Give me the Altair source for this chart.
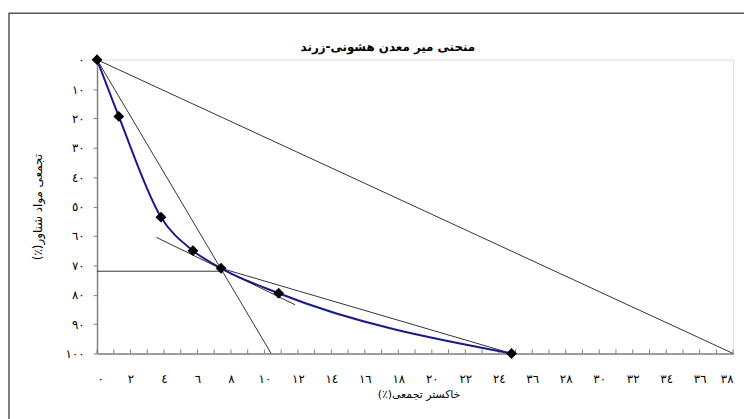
import altair as alt
import pandas as pd

# Measured points (cumulative ash %, cumulative floats %)
ash = [0, 1.3, 3.82, 5.73, 7.41, 10.85, 24.76]
floats = [0, 19.3, 53.6, 65.0, 71.0, 79.5, 100]

# Construction lines: pairs of endpoints
line_names = ["diag", "diag", "steep", "steep", "tangent", "tangent",
              "chord", "chord", "horiz", "horiz"]
line_x = [0, 38, 0, 10.4, 3.55, 11.83, 7.41, 24.76, 0, 7.41]
line_y = [0, 100, 0, 100, 60.5, 83.4, 71, 100, 72, 72]

x_ticks = list(range(0, 39, 2))
x_labels = ["٠", "٢", "٤", "٦", "٨", "١٠", "١٢", "١٤", "١٦", "١٨", "٢٠",
            "٢٢", "٢٤", "٣٦", "٢٨", "٣٠", "٣٢", "٣٤", "٣٦", "٣٨"]
y_ticks = list(range(0, 101, 10))
y_labels = ["٠", "١٠", "٢٠", "٣٠", "٤٠", "٥٠", "٦٠", "٧٠", "٨٠", "٩٠", "١٠٠"]
minor_ticks = list(range(0, 39))

RLE, PDF = "\u202B", "\u202C"
title_text = RLE + "منحنی میر معدن هشونی-زرند" + PDF
x_title = RLE + "خاکستر تجمعی(٪)" + PDF
y_title = RLE + "تجمعی مواد شناور(٪)" + PDF

FONT = "DejaVu Sans"

pts = pd.DataFrame({"ash": ash, "floats": floats})
lines = pd.DataFrame({"name": line_names, "x": line_x, "y": line_y})
minor = pd.DataFrame({"t": minor_ticks, "y0": [100] * len(minor_ticks),
                      "y1": [98.6] * len(minor_ticks)})
one_row = pd.DataFrame({"a": [0]})

x_expr = "[" + ",".join("'%s'" % s for s in x_labels) + "][round(datum.value/2)]"
y_expr = "[" + ",".join("'%s'" % s for s in y_labels) + "][round(datum.value/10)]"

xscale = alt.Scale(domain=[0, 38], nice=False)
yscale = alt.Scale(domain=[0, 100], reverse=True, nice=False)

x_axis = alt.Axis(values=x_ticks, labelExpr=x_expr, ticks=False, grid=False,
                  labelOverlap=False, labelPadding=20, labelFontSize=12,
                  labelFont=FONT, labelColor="#000",
                  domainColor="#808080", domainWidth=1.5,
                  title=x_title, titleFont=FONT, titleFontSize=11, titleFontWeight="normal",
                  titleColor="#000", titlePadding=4, titleX=325)
y_axis = alt.Axis(values=y_ticks, labelExpr=y_expr, tickSize=4, tickColor="#808080",
                  grid=False, labelOverlap=False, labelPadding=9, labelFontSize=12,
                  labelFont=FONT, labelColor="#000", domainColor="#808080", domainWidth=1.5,
                  title=y_title, titleFont=FONT, titleFontSize=12, titleFontWeight="normal",
                  titleColor="#000", titlePadding=21)

base_lines = alt.Chart(lines).mark_line(color="#333333", strokeWidth=1).encode(
    x=alt.X("x:Q", scale=xscale, axis=x_axis),
    y=alt.Y("y:Q", scale=yscale, axis=y_axis),
    detail="name:N",
)

curve = alt.Chart(pts).mark_line(color="#1a1a8a", strokeWidth=2,
                                 interpolate="monotone").encode(
    x=alt.X("ash:Q", scale=xscale, axis=x_axis),
    y=alt.Y("floats:Q", scale=yscale, axis=y_axis),
)

points = alt.Chart(pts).mark_point(shape="diamond", filled=True, color="#000",
                                   size=120, opacity=1).encode(
    x=alt.X("ash:Q", scale=xscale, axis=x_axis),
    y=alt.Y("floats:Q", scale=yscale, axis=y_axis),
)

ticks = alt.Chart(minor).mark_rule(color="#808080", strokeWidth=1).encode(
    x=alt.X("t:Q", scale=xscale, axis=x_axis),
    y=alt.Y("y0:Q", scale=yscale, axis=y_axis),
    y2="y1:Q",
)

frame = alt.Chart(one_row).mark_rect(fill=None, stroke="#555555", strokeWidth=1.5).encode(
    x=alt.value(-89), x2=alt.value(700), y=alt.value(-47), y2=alt.value(420)
)

title = alt.Chart(one_row).mark_text(text=title_text, font=FONT, fontSize=12,
                                     fontWeight="bold", color="#000",
                                     align="center", baseline="middle").encode(
    x=alt.value(294), y=alt.value(-13)
)

chart = alt.layer(frame, title, base_lines, ticks, curve, points).properties(
    width=643, height=297,
    padding={"left": 90, "top": 50, "right": 11, "bottom": 64},
    autosize=alt.AutoSizeParams(type="none"),
).configure_view(stroke="#606060", strokeWidth=1.5).configure_axis(
    labelOverlap=False
).configure(background="white")

chart.save("out.html", embed_options={"renderer": "svg", "actions": False})
